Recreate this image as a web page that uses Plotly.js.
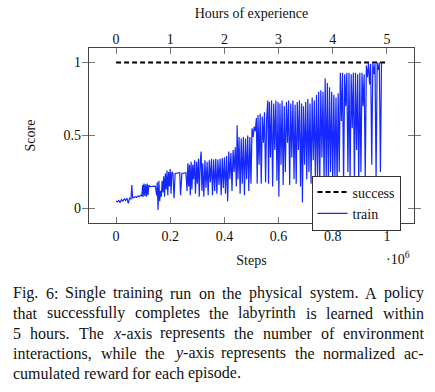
<!DOCTYPE html>
<html><head><meta charset="utf-8">
<script src="https://cdn.plot.ly/plotly-3.0.1.min.js"></script>
<style>html,body{margin:0;padding:0;background:#fff}#chart{width:435px;height:392px}</style>
</head><body><div id="chart"></div>
<script>
// ---- data (x in units of 10^6 steps, as on the axis) ----
const stepsMillions = [
0.000,0.005,0.010,0.015,0.020,0.025,0.030,0.035,0.040,0.045,0.050,0.055,0.058,0.061,0.065,0.070,0.075,0.080,0.085,0.090,0.095,
0.098,0.100,0.103,0.106,0.109,0.112,0.115,0.118,0.121,0.125,0.145,0.150,0.152,0.155,0.158,0.161,0.164,0.167,0.170,0.173,0.176,
0.179,0.182,0.185,0.188,0.191,0.194,0.197,0.200,0.203,0.206,0.210,0.214,0.218,0.235,0.238,0.243,0.258,0.262,0.265,0.268,0.271,
0.274,0.277,0.280,0.283,0.286,0.290,0.293,0.297,0.300,0.304,0.307,0.311,0.314,0.317,0.320,0.324,0.328,0.332,0.336,0.340,0.344,
0.348,0.352,0.356,0.360,0.364,0.368,0.372,0.376,0.380,0.384,0.388,0.392,0.396,0.400,0.404,0.408,0.412,0.416,0.420,0.424,0.428,
0.432,0.436,0.440,0.444,0.447,0.450,0.454,0.458,0.462,0.466,0.470,0.474,0.478,0.482,0.486,0.490,0.494,0.498,0.502,0.506,0.510,
0.514,0.518,0.521,0.524,0.528,0.532,0.536,0.540,0.544,0.548,0.552,0.556,0.560,0.563,0.566,0.570,0.574,0.578,0.582,0.586,0.590,
0.594,0.598,0.601,0.605,0.609,0.613,0.617,0.621,0.625,0.629,0.633,0.637,0.641,0.645,0.649,0.653,0.657,0.661,0.665,0.669,0.673,
0.677,0.681,0.685,0.688,0.692,0.696,0.700,0.704,0.708,0.712,0.716,0.720,0.724,0.728,0.732,0.736,0.740,0.744,0.748,0.752,0.756,
0.760,0.764,0.768,0.772,0.776,0.780,0.784,0.788,0.792,0.796,0.800,0.804,0.808,0.812,0.816,0.820,0.824,0.828,0.832,0.836,0.840,
0.844,0.848,0.852,0.856,0.860,0.864,0.868,0.872,0.876,0.880,0.884,0.888,0.892,0.896,0.900,0.904,0.908,0.912,0.916,0.920,0.924,
0.928,0.932,0.936,0.940,0.944,0.948,0.952,0.956,0.960,0.964,0.968,0.972,0.976,0.980
];
const trainScore = [
0.05,0.045,0.055,0.04,0.06,0.05,0.065,0.055,0.07,0.035,0.07,0.065,0.16,0.07,0.075,0.08,0.075,0.085,0.08,0.09,0.085,
0.16,0.08,0.17,0.085,0.165,0.08,0.17,0.09,0.16,0.15,0.152,0.09,0.18,-0.01,0.19,0.05,0.12,0.08,0.19,0.11,0.22,
0.08,0.24,0.13,0.26,0.09,0.25,0.15,0.27,0.10,0.25,0.24,0.07,0.24,0.245,0.09,0.24,0.245,0.12,0.31,0.15,0.30,
0.09,0.32,0.13,0.30,0.20,0.33,0.10,0.32,0.17,0.34,0.08,0.33,0.39,0.12,0.31,0.08,0.33,0.14,0.32,0.09,0.33,
0.18,0.34,0.09,0.335,0.12,0.34,0.10,0.335,0.16,0.34,0.09,0.345,0.14,0.35,0.10,0.36,0.05,0.39,0.20,0.38,0.12,
0.40,0.25,0.42,0.15,0.57,0.20,0.49,0.10,0.48,0.17,0.49,0.09,0.48,0.20,0.50,0.12,0.49,0.17,0.55,0.49,0.56,
0.53,0.62,0.17,0.64,0.30,0.65,0.17,0.63,0.45,0.66,0.18,0.62,0.74,0.17,0.73,0.35,0.74,0.15,0.72,0.40,0.74,
0.19,0.73,0.08,0.72,0.30,0.74,0.16,0.70,0.25,0.73,0.45,0.74,0.16,0.72,0.35,0.74,0.20,0.71,0.17,0.73,0.40,
0.74,0.15,0.72,0.04,0.70,0.30,0.73,0.20,0.75,0.25,0.72,0.17,0.76,0.33,0.74,0.20,0.78,0.22,0.80,0.16,0.81,
0.35,0.80,0.18,0.89,0.20,0.86,0.16,0.83,0.25,0.80,0.16,0.78,0.22,0.76,0.15,0.79,0.25,0.93,0.60,0.93,0.16,
0.92,0.70,0.93,0.25,0.93,0.18,0.92,0.55,0.93,0.20,0.93,0.40,0.92,0.16,0.93,0.25,0.93,0.70,0.92,0.20,0.98,
0.90,1.00,0.85,0.99,0.30,1.00,0.92,0.99,0.20,1.00,0.95,1.00,0.25,1.00
];
const successSteps = [0, 1];
const successScore = [1, 1];
const seriesNames = ['success', 'train'];

const stepTickVals = [0, 0.2, 0.4, 0.6, 0.8, 1];
const stepTickText = ['0', '0.2', '0.4', '0.6', '0.8', '1'];
const hourTickVals = [0, 1, 2, 3, 4, 5];
const hourTickText = ['0', '1', '2', '3', '4', '5'];
const scoreTickVals = [0, 0.5, 1];
const scoreTickText = ['0', '0.5', '1'];

const xTitle = 'Steps';
const x2Title = 'Hours of experience';
const yTitle = 'Score';
const xExponent = '·10<sup>6</sup>';
const captionLines = [
  'Fig. 6: Single training run on the physical system. A policy',
  'that successfully completes the labyrinth is learned within',
  '5 hours. The <i>x</i>-axis represents the number of environment',
  'interactions, while the <i>y</i>-axis represents the normalized ac-',
  'cumulated reward for each episode.'
];

// ---- layout constants ----
const W = 435, H = 392;
const M = {l: 89, r: 21, t: 48, b: 169};
const PW = W - M.l - M.r, PH = H - M.t - M.b;
const FAMILY = '"Liberation Serif", "Times New Roman", serif';
const px2x = px => (px - M.l) / PW;
const py2y = py => (H - M.b - py) / PH;

const traces = [
  {x: successSteps, y: successScore, name: seriesNames[0], mode: 'lines',
   line: {color: '#000', width: 2, dash: '5px,3px'}},
  {x: stepsMillions, y: trainScore, name: seriesNames[1], mode: 'lines',
   line: {color: 'rgb(20,40,255)', width: 1.2}},
  {x: [], y: [], xaxis: 'x2', showlegend: false, hoverinfo: 'skip'}
];

// caption, justified word by word
const capSize = 16;
const ctx = document.createElement('canvas').getContext('2d');
function measure(html) {
  let w = 0;
  for (const p of html.split(/(<i>.*?<\/i>)/)) {
    if (!p) continue;
    if (p.startsWith('<i>')) { ctx.font = `italic ${capSize}px ${FAMILY}`; w += ctx.measureText(p.slice(3, -4)).width; }
    else { ctx.font = `${capSize}px ${FAMILY}`; w += ctx.measureText(p).width; }
  }
  return w;
}
const annotations = [];
const capLeft = 12, capRight = 423, capTop = 293, capStep = 20;
captionLines.forEach((line, i) => {
  const words = line.split(' ');
  const widths = words.map(measure);
  const total = widths.reduce((a, b) => a + b, 0);
  const justify = i < captionLines.length - 1;
  const gap = justify ? (capRight - capLeft - total) / (words.length - 1) : measure(' ');
  let x = capLeft;
  words.forEach((w, j) => {
    annotations.push({xref: 'paper', yref: 'paper', x: px2x(x - 1), y: py2y(capTop + i * capStep),
      xanchor: 'left', yanchor: 'middle', showarrow: false, text: w,
      font: {family: FAMILY, size: capSize, color: '#111'}});
    x += widths[j] + gap;
  });
});
annotations.push({xref: 'paper', yref: 'paper', x: px2x(398), y: py2y(258), xanchor: 'center', yanchor: 'middle',
  showarrow: false, text: xExponent, font: {family: FAMILY, size: 14, color: '#111'}});

const axisCommon = {
  showgrid: false, zeroline: false, ticks: 'inside', ticklen: 6, tickwidth: 1, tickcolor: '#777',
  tickfont: {family: FAMILY, size: 14, color: '#111'}, linecolor: '#444', linewidth: 1.2
};

const layout = {
  width: W, height: H, margin: M, paper_bgcolor: '#fff', plot_bgcolor: '#fff',
  font: {family: FAMILY, color: '#111'},
  showlegend: true,
  legend: {x: px2x(311.5), y: py2y(175.5), xanchor: 'left', yanchor: 'top', bgcolor: '#fff',
    bordercolor: '#333', borderwidth: 1, font: {family: FAMILY, size: 14, color: '#111'}, tracegroupgap: 0},
  xaxis: Object.assign({}, axisCommon, {range: [-0.1, 1.1], tickvals: stepTickVals, ticktext: stepTickText,
    showline: true, mirror: true, title: {text: xTitle, font: {family: FAMILY, size: 14}, standoff: 12}}),
  xaxis2: Object.assign({}, axisCommon, {range: [-0.5, 5.5], tickvals: hourTickVals, ticktext: hourTickText,
    overlaying: 'x', side: 'top', anchor: 'y', showline: false,
    title: {text: x2Title, font: {family: FAMILY, size: 14}, standoff: 10}}),
  yaxis: Object.assign({}, axisCommon, {range: [-0.1, 1.1], tickvals: scoreTickVals, ticktext: scoreTickText,
    showline: true, mirror: 'allticks', ticklabelstandoff: 4,
    title: {text: yTitle, font: {family: FAMILY, size: 14}, standoff: 24}}),
  annotations: annotations
};

Plotly.newPlot('chart', traces, layout, {staticPlot: true, displayModeBar: false});
</script>
</body></html>
